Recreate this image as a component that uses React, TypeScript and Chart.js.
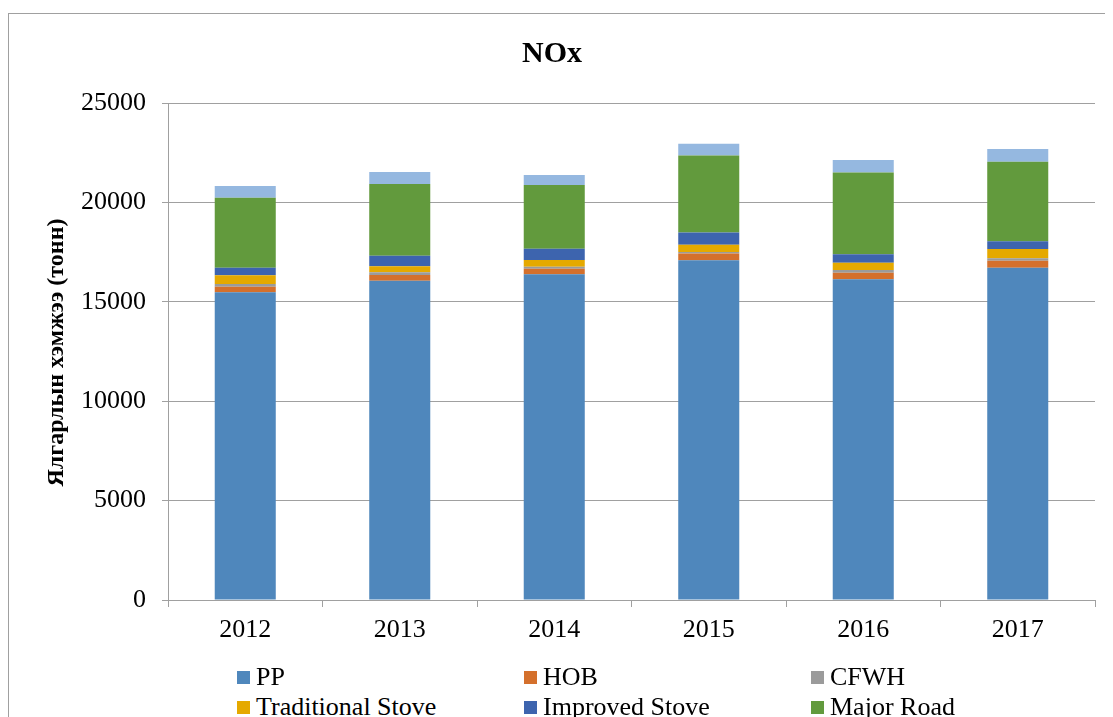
import React, { useEffect, useRef } from "react";
import { Chart, registerables } from "chart.js";

Chart.register(...registerables);

const years = ["2012", "2013", "2014", "2015", "2016", "2017"];
const seriesNames = ["PP", "HOB", "CFWH", "Traditional Stove", "Improved Stove", "Major Road", "Minor Road"];
const ppValues = [15480, 16060, 16380, 17090, 16130, 16715];
const hobValues = [280, 290, 285, 335, 335, 350];
const cfwhValues = [135, 135, 100, 85, 135, 120];
const traditionalValues = [440, 300, 335, 355, 370, 470];
const improvedValues = [380, 535, 570, 620, 420, 385];
const majorRoadValues = [3520, 3610, 3205, 3870, 4110, 4005];
const minorRoadValues = [590, 600, 500, 590, 635, 640];
const yTicks = [0, 5000, 10000, 15000, 20000, 25000];
const yTitle = "Ялгарлын хэмжээ (тонн)";
const seriesColors = ["#4F87BC", "#D4702C", "#9B9B9B", "#E5A900", "#3D64AE", "#629A3D", "#95B8E0"];

const FONT = "'Liberation Serif', 'Times New Roman', serif";

const yTitlePlugin = {
  id: "yTitlePlugin",
  afterDraw(chart: any) {
    const ctx = chart.ctx;
    const area = chart.chartArea;
    ctx.save();
    ctx.translate(48, (area.top + area.bottom) / 2 + 1);
    ctx.rotate(-Math.PI / 2);
    ctx.font = `bold 24px ${FONT}`;
    ctx.fillStyle = "#000";
    ctx.textAlign = "center";
    ctx.textBaseline = "middle";
    ctx.fillText(yTitle, 0, 0);
    ctx.restore();
  },
};

export default function App() {
  const canvasRef = useRef<HTMLCanvasElement | null>(null);

  useEffect(() => {
    document.documentElement.style.overflow = "hidden";
    const canvas = canvasRef.current;
    if (!canvas) return;
    const values = [ppValues, hobValues, cfwhValues, traditionalValues, improvedValues, majorRoadValues, minorRoadValues];
    const chart = new Chart(canvas, {
      type: "bar",
      data: {
        labels: years,
        datasets: seriesNames.map((name, i) => ({
          label: name,
          data: values[i],
          backgroundColor: seriesColors[i],
          borderWidth: 0,
          categoryPercentage: 1,
          barPercentage: 0.395,
        })),
      },
      options: {
        responsive: false,
        animation: false,
        devicePixelRatio: 1,
        layout: { padding: { left: 0, right: 18, top: 0, bottom: 0 } },
        plugins: {
          legend: { display: false },
          tooltip: { enabled: false },
          title: {
            display: true,
            text: "NOx",
            color: "#000",
            font: { family: FONT, size: 30, weight: "bold", lineHeight: 1.2 },
            padding: { top: 22, bottom: 31 },
          },
        },
        scales: {
          x: {
            stacked: true,
            grid: {
              display: true,
              drawOnChartArea: false,
              drawTicks: true,
              tickLength: 7,
              offset: true,
              color: "#a0a0a0",
              lineWidth: 1,
            },
            border: { display: true, color: "#a0a0a0", width: 1 },
            ticks: {
              color: "#000",
              font: { family: FONT, size: 26 },
              padding: 8,
            },
            afterFit: (scale: any) => {
              scale.height = 64;
            },
          },
          y: {
            stacked: true,
            min: 0,
            max: 25000,
            afterBuildTicks: (scale: any) => {
              scale.ticks = yTicks.map((v) => ({ value: v }));
            },
            grid: {
              color: "#a0a0a0",
              lineWidth: 1,
              drawTicks: true,
              tickLength: 6,
            },
            border: { display: true, color: "#a0a0a0", width: 1 },
            ticks: {
              color: "#000",
              font: { family: FONT, size: 26 },
              padding: 16,
              callback: (v: any) => String(v),
            },
            afterFit: (scale: any) => {
              scale.width = 159;
            },
          },
        },
      },
      plugins: [yTitlePlugin],
    });
    return () => {
      chart.destroy();
    };
  }, []);

  const colLeft = [228, 515, 802];
  return (
    <div
      style={{
        marginTop: 5,
        width: 1105,
        height: 704,
        borderLeft: "1px solid #a0a0a0",
        borderTop: "1px solid #a0a0a0",
        position: "relative",
        overflow: "hidden",
        boxSizing: "border-box",
        background: "#fff",
      }}
    >
      <canvas ref={canvasRef} width={1104} height={650} style={{ display: "block", width: 1104, height: 650 }} />
      {seriesNames.map((name, i) => {
        const row = Math.floor(i / 3);
        const col = i % 3;
        return (
          <div
            key={name}
            style={{
              position: "absolute",
              left: colLeft[col],
              top: 648 + row * 30,
              height: 30,
              display: "flex",
              alignItems: "center",
              fontFamily: FONT,
              fontSize: 26,
              color: "#000",
              whiteSpace: "nowrap",
            }}
          >
            <span
              style={{
                display: "inline-block",
                width: 13,
                height: 13,
                background: seriesColors[i],
                marginRight: 6,
              }}
            />
            <span>{name}</span>
          </div>
        );
      })}
    </div>
  );
}
